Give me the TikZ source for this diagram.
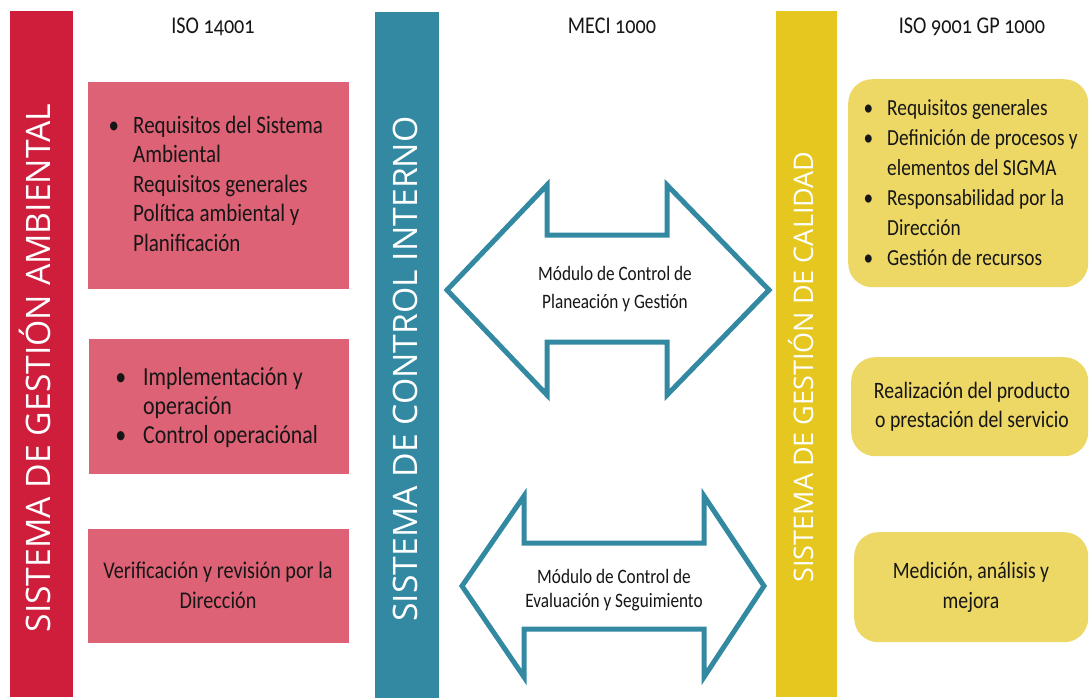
\documentclass[tikz,border=0pt]{standalone}
\usepackage{fontspec}
\setmainfont{Carlito}[FakeStretch=0.84]
\newfontfamily\oldnum{Carlito}[FakeStretch=0.84,Numbers=OldStyle]
\newfontfamily\capsfont{Open Sans}
\definecolor{barred}{HTML}{CE1E3C}
\definecolor{boxpink}{HTML}{DE6276}
\definecolor{barteal}{HTML}{3289A1}
\definecolor{baryellow}{HTML}{E5C720}
\definecolor{boxyellow}{HTML}{EDD865}
\definecolor{ink}{HTML}{161616}
\newcommand{\fs}[2]{\fontsize{#1pt}{#2pt}\selectfont}
\newcommand{\bl}[1]{\llap{\textbullet\hspace{#1pt}}}
\tikzset{
  bar/.style={inner sep=0pt, minimum width=63pt, minimum height=686pt, anchor=north west},
  pinkbox/.style={fill=boxpink, inner sep=0pt, anchor=north west},
  yelbox/.style={fill=boxyellow, inner sep=0pt, anchor=north west, rounded corners=24pt},
  txt/.style={inner sep=0pt, text=ink},
  vlabel/.style={inner sep=0pt, text=white, rotate=90, anchor=base, font=\capsfont},
  hdr/.style={inner sep=0pt, text=ink, anchor=base, font=\oldnum\fs{24}{28}},
  dblarrow/.style={draw=barteal, line width=5pt, fill=white, line join=miter}
}
\begin{document}
\begin{tikzpicture}[x=1pt,y=-1pt]
\useasboundingbox (0,0) rectangle (1089,697);
\fill[white] (0,0) rectangle (1089,697);

% vertical bars
\node[bar, fill=barred] (barA) at (10,11) {};
\node[bar, fill=barteal, minimum width=64pt] (barC) at (375,12) {};
\node[bar, fill=baryellow, minimum width=61pt] (barQ) at (776,11) {};

\node[vlabel, font=\capsfont\fs{33.7}{38}] (labA) at (50,368) {SISTEMA DE GESTIÓN AMBIENTAL};
\node[vlabel, font=\capsfont\fs{33.7}{38}] (labC) at (417,369) {SISTEMA DE CONTROL INTERNO};
\node[vlabel, font=\capsfont\fs{27}{32}] (labQ) at (813,367) {SISTEMA DE GESTIÓN DE CALIDAD};

% headers
\node[hdr] (h1) at (213,33) {ISO 14001};
\node[hdr] (h2) at (612,33) {MECI 1000};
\node[hdr] (h3) at (972,33) {ISO 9001 GP 1000};

% pink boxes
\node[pinkbox, minimum width=261pt, minimum height=207pt] (p1) at (88,82) {};
\node[pinkbox, minimum width=260pt, minimum height=135pt] (p2) at (89,339) {};
\node[pinkbox, minimum width=261pt, minimum height=114pt] (p3) at (88,529) {};

\node[txt, anchor=base west] (t1) at (133,133) {\fs{25}{29.5}\begin{tabular}[t]{@{}l@{}}
\bl{14}Requisitos del Sistema\\ Ambiental\\ Requisitos generales\\ Política ambiental y\\ Planificación\end{tabular}};
\node[txt, anchor=base west] (t2) at (143,385) {\fs{26}{29}\begin{tabular}[t]{@{}l@{}}
\bl{17}Implementación y\\ operación\\ \bl{17}Control operaciónal\end{tabular}};
\node[txt, anchor=base] (t3) at (218,578) {\fs{24}{30}\begin{tabular}[t]{@{}c@{}}
Verificación y revisión por la\\ Dirección\end{tabular}};

% yellow boxes
\node[yelbox, minimum width=240pt, minimum height=208pt] (y1) at (848,79) {};
\node[yelbox, minimum width=237pt, minimum height=99pt] (y2) at (851,357) {};
\node[yelbox, minimum width=234pt, minimum height=110pt] (y3) at (854,532) {};

\node[txt, anchor=base west] (u1) at (887,115) {\fs{23}{30}\begin{tabular}[t]{@{}l@{}}
\bl{14}Requisitos generales\\ \bl{14}Definición de procesos y\\ elementos del SIGMA\\ \bl{14}Responsabilidad por la\\ Dirección\\ \bl{14}Gestión de recursos\end{tabular}};
\node[txt, anchor=base] (u2) at (972,398) {\fs{23.5}{29}\begin{tabular}[t]{@{}c@{}}
Realización del producto\\ o prestación del servicio\end{tabular}};
\node[txt, anchor=base] (u3) at (971,578) {\fs{23.5}{30}\begin{tabular}[t]{@{}c@{}}
Medición, análisis y\\ mejora\end{tabular}};

% double arrows
\draw[dblarrow] (447,290) -- (547,185) -- (547,235) -- (667,235) -- (667,185) -- (769,290)
  -- (667,395) -- (667,342) -- (547,342) -- (547,395) -- cycle;
\node[txt, anchor=base] (m1) at (615,280) {\fs{20.5}{28}\begin{tabular}[t]{@{}c@{}}
Módulo de Control de\\ Planeación y Gestión\end{tabular}};

\draw[dblarrow] (462,586) -- (524,496) -- (524,543) -- (704,543) -- (704,496) -- (764,586)
  -- (704,677) -- (704,629) -- (524,629) -- (524,677) -- cycle;
\node[txt, anchor=base] (m2) at (614,583) {\fs{20.5}{24}\begin{tabular}[t]{@{}c@{}}
Módulo de Control de\\ Evaluación y Seguimiento\end{tabular}};
\end{tikzpicture}
\end{document}
